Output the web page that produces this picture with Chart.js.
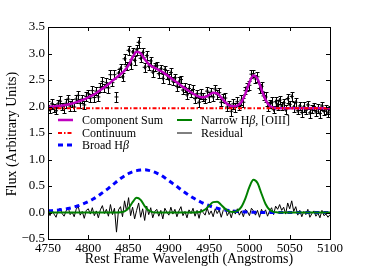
<!DOCTYPE html>
<html>
<head>
<meta charset="utf-8">
<script src="https://cdn.jsdelivr.net/npm/chart.js@4.4.0/dist/chart.umd.min.js"></script>
<style>
  html, body { margin: 0; padding: 0; background: #fff; }
  canvas { display: block; }
</style>
</head>
<body>
<canvas id="grafico" width="366" height="276"></canvas>
<script>
// Datos del espectro
const inicioLambda = 4750;
const pasoDatos = 2.5;
const pasoModelo = 5;

// Flujo observado, cada 2.5 Å desde 4750
const flujo = [
    2.02, 1.94, 2.05, 1.97, 1.92, 2.05, 2.10, 2.00, 1.96, 2.06,
    2.14, 2.01, 2.07, 1.99, 2.14, 2.21, 2.06, 2.14, 2.03, 2.19,
    2.24, 2.16, 2.30, 2.17, 2.29, 2.18, 2.36, 2.47, 2.35, 2.45,
    2.35, 2.60, 2.45, 2.60, 2.18, 2.63, 2.72, 2.56, 2.90, 2.76,
    3.06, 2.80, 3.03, 2.87, 3.07, 3.21, 2.91, 3.02, 2.74, 2.96,
    2.76, 2.86, 2.65, 2.75, 2.77, 2.62, 2.71, 2.53, 2.70, 2.60,
    2.52, 2.64, 2.48, 2.54, 2.38, 2.46, 2.51, 2.31, 2.36, 2.22,
    2.34, 2.25, 2.32, 2.15, 2.24, 2.08, 2.24, 2.18, 2.13, 2.29,
    2.18, 2.27, 2.18, 2.33, 2.23, 2.26, 2.08, 2.16, 2.16, 1.99,
    2.04, 1.91, 2.05, 1.98, 2.09, 2.00, 2.12, 2.08, 2.30, 2.37,
    2.40, 2.61, 2.62, 2.52, 2.56, 2.34, 2.38, 2.20, 2.18, 2.00,
    2.05, 2.08, 1.94, 2.09, 2.03, 2.12, 2.01, 2.07, 1.94, 2.15,
    2.04, 2.19, 1.99, 2.08, 1.92, 2.01, 1.89, 1.99, 1.93, 2.03,
    1.88, 1.95, 2.00, 1.90, 1.96, 1.87, 2.01, 1.91, 1.94, 1.88,
    1.93
];

// Barras de error del flujo
const errores = [
    0.08, 0.07, 0.09, 0.08, 0.07, 0.08, 0.09, 0.07, 0.08, 0.08,
    0.07, 0.09, 0.08, 0.07, 0.08, 0.09, 0.08, 0.07, 0.08, 0.09,
    0.08, 0.07, 0.08, 0.09, 0.07, 0.08, 0.08, 0.09, 0.07, 0.08,
    0.09, 0.08, 0.07, 0.08, 0.09, 0.08, 0.08, 0.07, 0.09, 0.08,
    0.08, 0.09, 0.07, 0.08, 0.09, 0.10, 0.07, 0.08, 0.09, 0.08,
    0.07, 0.08, 0.09, 0.08, 0.07, 0.08, 0.08, 0.09, 0.07, 0.08,
    0.09, 0.08, 0.07, 0.08, 0.08, 0.09, 0.07, 0.08, 0.09, 0.08,
    0.08, 0.07, 0.09, 0.08, 0.07, 0.08, 0.09, 0.08, 0.07, 0.08,
    0.09, 0.08, 0.08, 0.07, 0.09, 0.08, 0.07, 0.08, 0.09, 0.08,
    0.07, 0.08, 0.09, 0.08, 0.08, 0.07, 0.09, 0.08, 0.07, 0.08,
    0.09, 0.08, 0.07, 0.08, 0.09, 0.08, 0.08, 0.07, 0.09, 0.08,
    0.08, 0.09, 0.07, 0.08, 0.09, 0.08, 0.07, 0.08, 0.09, 0.08,
    0.07, 0.08, 0.09, 0.08, 0.07, 0.08, 0.08, 0.09, 0.07, 0.08,
    0.09, 0.08, 0.07, 0.08, 0.09, 0.08, 0.08, 0.07, 0.09, 0.08,
    0.08
];

// Residuo del ajuste, mismo muestreo que el flujo
const residuo = [
     0.02, -0.06,  0.05, -0.03, -0.09,  0.04,  0.08, -0.02, -0.07,  0.03,
     0.10, -0.04,  0.01, -0.08,  0.06,  0.12, -0.05,  0.02, -0.11,  0.04,
     0.07, -0.03,  0.09, -0.06,  0.03, -0.10,  0.05,  0.13, -0.02,  0.06,
    -0.07,  0.15, -0.04,  0.08, -0.37,  0.05,  0.11, -0.08,  0.22,  0.03,
     0.28, -0.06,  0.10, -0.12,  0.04,  0.18, -0.09,  0.07, -0.15,  0.12,
    -0.04,  0.09, -0.10,  0.02,  0.06, -0.07,  0.04, -0.12,  0.08,  0.01,
    -0.05,  0.10, -0.03,  0.06, -0.08,  0.03,  0.11, -0.06,  0.02, -0.10,
     0.05, -0.02,  0.08, -0.07,  0.04, -0.11,  0.06,  0.00, -0.05,  0.09,
    -0.04,  0.03, -0.08,  0.07, -0.02,  0.05, -0.09,  0.04,  0.08, -0.06,
     0.02, -0.10,  0.05, -0.03,  0.07, -0.05,  0.03, -0.08,  0.06,  0.02,
    -0.06,  0.08,  0.03, -0.05,  0.04, -0.09,  0.06, -0.02,  0.05, -0.07,
     0.03,  0.09, -0.04,  0.12,  0.06,  0.15,  0.04,  0.10, -0.03,  0.18,
     0.07,  0.22,  0.02,  0.11, -0.05,  0.04, -0.08,  0.02, -0.04,  0.06,
    -0.09, -0.02,  0.03, -0.07, -0.01, -0.10,  0.04, -0.06, -0.03, -0.09,
    -0.04
];

// Componentes del modelo, cada 5 Å desde 4750
const continuo = 1.965;

const componenteAncha = [
    0.030, 0.035, 0.042, 0.050, 0.060, 0.074, 0.092, 0.115, 0.140, 0.170,
    0.205, 0.245, 0.290, 0.345, 0.400, 0.455, 0.520, 0.580, 0.640, 0.690,
    0.735, 0.770, 0.790, 0.800, 0.805, 0.795, 0.775, 0.745, 0.705, 0.655,
    0.600, 0.545, 0.490, 0.432, 0.378, 0.326, 0.278, 0.234, 0.194, 0.158,
    0.127, 0.100, 0.079, 0.061, 0.047, 0.036, 0.027, 0.020, 0.014, 0.010,
    0.007, 0.005, 0.003, 0.002, 0.001, 0.000, 0.000, 0.000, 0.000, 0.000,
    0.000, 0.000, 0.000, 0.000, 0.000, 0.000, 0.000, 0.000, 0.000, 0.000,
    0.000
];

const componenteEstrecha = [
    0.000, 0.000, 0.000, 0.000, 0.000, 0.000, 0.000, 0.000, 0.000, 0.000,
    0.000, 0.000, 0.000, 0.000, 0.000, 0.000, 0.000, 0.000, 0.003, 0.021,
    0.081, 0.194, 0.277, 0.238, 0.122, 0.038, 0.007, 0.001, 0.000, 0.000,
    0.000, 0.000, 0.000, 0.000, 0.000, 0.000, 0.000, 0.003, 0.017, 0.056,
    0.127, 0.196, 0.203, 0.143, 0.068, 0.022, 0.011, 0.030, 0.106, 0.268,
    0.483, 0.616, 0.555, 0.354, 0.160, 0.051, 0.011, 0.002, 0.000, 0.000,
    0.000, 0.000, 0.000, 0.000, 0.000, 0.000, 0.000, 0.000, 0.000, 0.000,
    0.000
];

// Marcas de los ejes
const ticksX = [4750, 4800, 4850, 4900, 4950, 5000, 5050, 5100];
const ticksY = [-0.5, 0.0, 0.5, 1.0, 1.5, 2.0, 2.5, 3.0, 3.5];

const FUENTE = '"Liberation Serif", "Times New Roman", serif';

// Construir los puntos para Chart.js
const puntosFlujo = flujo.map((f, i) => ({ x: inicioLambda + i * pasoDatos, y: f }));
const puntosResiduo = residuo.map((r, i) => ({ x: inicioLambda + i * pasoDatos, y: r }));
const puntosAncha = componenteAncha.map((b, i) => ({ x: inicioLambda + i * pasoModelo, y: b }));
const puntosEstrecha = componenteEstrecha.map((n, i) => ({ x: inicioLambda + i * pasoModelo, y: n }));
const puntosSuma = componenteAncha.map((b, i) => ({
    x: inicioLambda + i * pasoModelo,
    y: continuo + b + componenteEstrecha[i]
}));
const puntosContinuo = [
    { x: ticksX[0], y: continuo },
    { x: ticksX[ticksX.length - 1], y: continuo }
];

// Barras de error debajo de todas las curvas
const pluginErrores = {
    id: 'errores',
    beforeDatasetsDraw(chart) {
        const ctx = chart.ctx;
        const area = chart.chartArea;
        const x = chart.scales.x;
        const y = chart.scales.y;
        ctx.save();
        ctx.beginPath();
        ctx.rect(area.left, area.top, area.right - area.left, area.bottom - area.top);
        ctx.clip();
        ctx.strokeStyle = '#000';
        ctx.lineWidth = 1;
        ctx.beginPath();
        puntosFlujo.forEach((p, i) => {
            const px = Math.round(x.getPixelForValue(p.x)) + 0.5;
            const y1 = Math.round(y.getPixelForValue(p.y - errores[i])) + 0.5;
            const y2 = Math.round(y.getPixelForValue(p.y + errores[i])) + 0.5;
            ctx.moveTo(px, y1);
            ctx.lineTo(px, y2);
            ctx.moveTo(px - 2, y1);
            ctx.lineTo(px + 2, y1);
            ctx.moveTo(px - 2, y2);
            ctx.lineTo(px + 2, y2);
        });
        ctx.stroke();
        ctx.restore();
    }
};

// Texto con beta en cursiva
function dibujarTexto(ctx, texto, x, y, tam) {
    const partes = texto.split('β');
    let cx = x;
    partes.forEach((parte, i) => {
        ctx.font = tam + 'px ' + FUENTE;
        ctx.fillText(parte, cx, y);
        cx += ctx.measureText(parte).width;
        if (i < partes.length - 1) {
            ctx.font = 'italic ' + tam + 'px ' + FUENTE;
            ctx.fillText('β', cx, y);
            cx += ctx.measureText('β').width;
        }
    });
}

// Marco, marcas hacia dentro, títulos y leyenda
const pluginMarco = {
    id: 'marco',
    afterDraw(chart) {
        const ctx = chart.ctx;
        const a = chart.chartArea;
        const x = chart.scales.x;
        const y = chart.scales.y;
        ctx.save();
        ctx.strokeStyle = '#000';
        ctx.lineWidth = 1;
        ctx.strokeRect(Math.round(a.left) + 0.5, Math.round(a.top) + 0.5,
            Math.round(a.right - a.left), Math.round(a.bottom - a.top));
        ctx.beginPath();
        ticksX.forEach(v => {
            const px = Math.round(x.getPixelForValue(v)) + 0.5;
            ctx.moveTo(px, a.bottom); ctx.lineTo(px, a.bottom - 4);
            ctx.moveTo(px, a.top); ctx.lineTo(px, a.top + 4);
        });
        ticksY.forEach(v => {
            const py = Math.round(y.getPixelForValue(v)) + 0.5;
            ctx.moveTo(a.left, py); ctx.lineTo(a.left + 4, py);
            ctx.moveTo(a.right, py); ctx.lineTo(a.right - 4, py);
        });
        ctx.stroke();

        // Títulos de los ejes
        ctx.fillStyle = '#000';
        ctx.textAlign = 'center';
        ctx.textBaseline = 'middle';
        ctx.font = '14px ' + FUENTE;
        ctx.fillText('Rest Frame Wavelength (Angstroms)', (a.left + a.right) / 2, 259);
        ctx.save();
        ctx.translate(12, (a.top + a.bottom) / 2 + 1);
        ctx.rotate(-Math.PI / 2);
        ctx.fillText('Flux (Arbitrary Units)', 0, 0);
        ctx.restore();

        // Leyenda en dos columnas
        ctx.textAlign = 'left';
        const ds = chart.data.datasets;
        const entradas = [
            { d: ds[2], x: 58, y: 120 },
            { d: ds[3], x: 58, y: 133 },
            { d: ds[4], x: 58, y: 145 },
            { d: ds[5], x: 177, y: 120 },
            { d: ds[1], x: 177, y: 133 }
        ];
        entradas.forEach(e => {
            ctx.save();
            ctx.strokeStyle = e.d.borderColor;
            ctx.lineWidth = e.d.borderWidth;
            ctx.setLineDash(e.d.borderDash || []);
            ctx.beginPath();
            ctx.moveTo(e.x, e.y);
            ctx.lineTo(e.x + 15, e.y);
            ctx.stroke();
            ctx.restore();
            dibujarTexto(ctx, e.d.label, e.x + 24, e.y + 1, 12);
        });
        ctx.restore();
    }
};

const grafico = new Chart(document.getElementById('grafico'), {
    type: 'line',
    data: {
        datasets: [
            {
                label: 'Data',
                data: puntosFlujo,
                showLine: false,
                pointStyle: 'cross',
                pointRadius: 2,
                borderColor: '#000',
                borderWidth: 1,
                order: 10
            },
            {
                label: 'Residual',
                data: puntosResiduo,
                borderColor: '#000',
                borderWidth: 1,
                pointRadius: 0,
                tension: 0,
                order: 9
            },
            {
                label: 'Component Sum',
                data: puntosSuma,
                borderColor: '#bf00bf',
                borderWidth: 2.5,
                pointRadius: 0,
                cubicInterpolationMode: 'monotone',
                order: 5
            },
            {
                label: 'Continuum',
                data: puntosContinuo,
                borderColor: '#ff0000',
                borderWidth: 2,
                borderDash: [4, 2, 1.5, 2],
                pointRadius: 0,
                order: 4
            },
            {
                label: 'Broad Hβ',
                data: puntosAncha,
                borderColor: '#0000ff',
                borderWidth: 3,
                borderDash: [5, 4],
                pointRadius: 0,
                cubicInterpolationMode: 'monotone',
                order: 3
            },
            {
                label: 'Narrow Hβ, [OIII]',
                data: puntosEstrecha,
                borderColor: '#008000',
                borderWidth: 2,
                pointRadius: 0,
                cubicInterpolationMode: 'monotone',
                order: 2
            }
        ]
    },
    options: {
        responsive: false,
        animation: false,
        devicePixelRatio: 1,
        layout: { padding: { left: 0, right: 36, top: 27, bottom: 0 } },
        plugins: {
            legend: { display: false },
            tooltip: { enabled: false }
        },
        scales: {
            x: {
                type: 'linear',
                min: 4750,
                max: 5100,
                afterBuildTicks: s => { s.ticks = ticksX.map(v => ({ value: v })); },
                afterFit: s => { s.height = 37; },
                grid: { display: false, drawTicks: false },
                border: { display: false },
                ticks: {
                    autoSkip: false,
                    maxRotation: 0,
                    padding: 2,
                    color: '#000',
                    font: { family: FUENTE, size: 13 },
                    callback: v => String(v)
                }
            },
            y: {
                type: 'linear',
                min: -0.5,
                max: 3.5,
                afterBuildTicks: s => { s.ticks = ticksY.map(v => ({ value: v })); },
                afterFit: s => { s.width = 48; },
                grid: { display: false, drawTicks: false },
                border: { display: false },
                ticks: {
                    autoSkip: false,
                    padding: 3,
                    color: '#000',
                    font: { family: FUENTE, size: 13 },
                    callback: v => v.toFixed(1).replace('-', '\u2212')
                }
            }
        }
    },
    plugins: [pluginErrores, pluginMarco]
});
</script>
</body>
</html>
